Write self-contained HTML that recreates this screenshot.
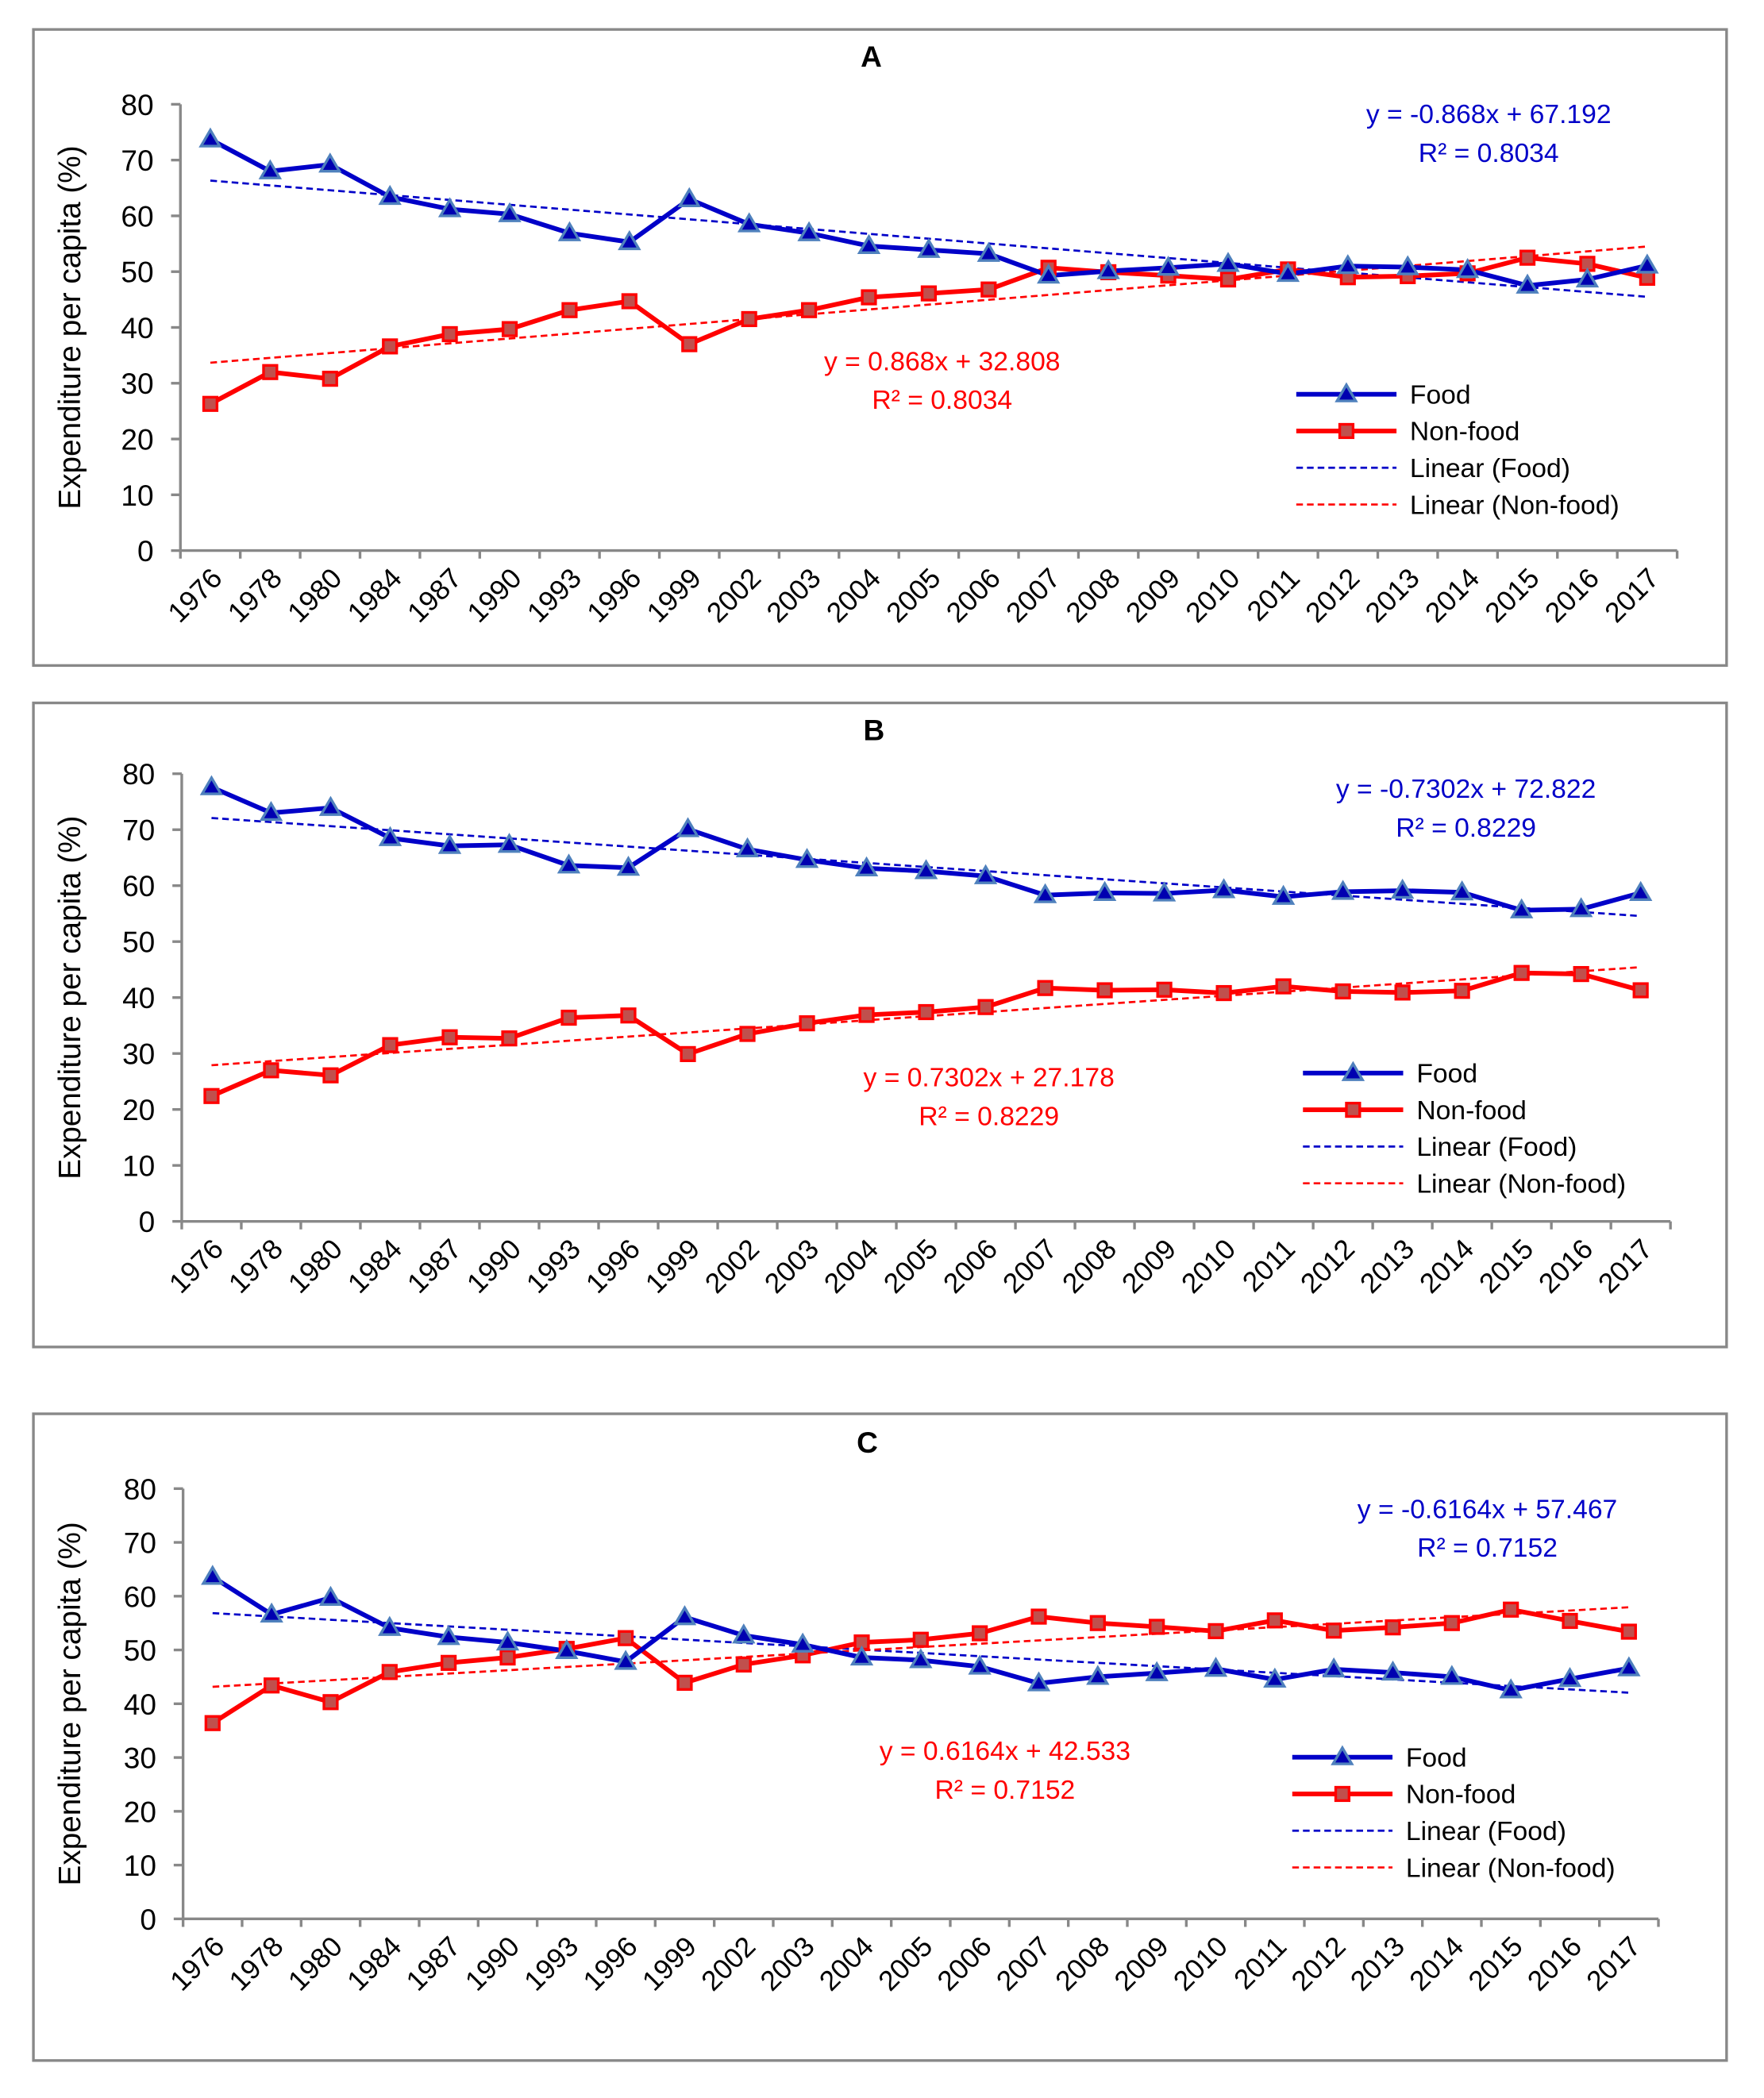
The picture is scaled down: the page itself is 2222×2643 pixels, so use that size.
<!DOCTYPE html>
<html><head><meta charset="utf-8">
<style>
html,body{margin:0;padding:0;background:#fff;}
svg{display:block;}
text{font-family:"Liberation Sans",sans-serif;}
</style></head>
<body>
<svg id="s" xmlns="http://www.w3.org/2000/svg" width="2222" height="2643" viewBox="0 0 1320 1570"></svg>
<script>
const NS="http://www.w3.org/2000/svg";
const svg=document.getElementById('s');
function el(t,a,txt){const e=document.createElementNS(NS,t);for(const k in a)e.setAttribute(k,a[k]);if(txt!==undefined)e.textContent=txt;svg.appendChild(e);return e;}
const years=[1976,1978,1980,1984,1987,1990,1993,1996,1999,2002,2003,2004,2005,2006,2007,2008,2009,2010,2011,2012,2013,2014,2015,2016,2017];
const panels=[
 {title:"A",box:[25,22,1292,498],ax0:135,ax1:1255,y0:412,y80:78,tx:652,ty:50,
  food:[73.7,68,69.2,63.4,61.2,60.3,56.9,55.3,63,58.5,56.9,54.6,53.9,53.2,49.3,50.1,50.7,51.4,49.6,51,50.8,50.3,47.5,48.6,51.1],
  fa:-0.868,fb:67.192,na:0.868,nb:32.808,
  eqB:[1114,92,"y = -0.868x + 67.192","R² = 0.8034"],eqR:[705,277,"y = 0.868x + 32.808","R² = 0.8034"],
  leg:[970,1045,1055,295]},
 {title:"B",box:[25,526,1292,1008],ax0:136,ax1:1250,y0:914,y80:579,tx:654,ty:554,
  food:[77.6,73,73.9,68.5,67.1,67.3,63.6,63.2,70.1,66.5,64.6,63.1,62.6,61.7,58.3,58.7,58.6,59.2,58,58.9,59.1,58.8,55.6,55.8,58.7],
  fa:-0.7302,fb:72.822,na:0.7302,nb:27.178,
  eqB:[1097,597,"y = -0.7302x + 72.822","R² = 0.8229"],eqR:[740,813,"y = 0.7302x + 27.178","R² = 0.8229"],
  leg:[975,1050,1060,803]},
 {title:"C",box:[25,1058,1292,1542],ax0:137,ax1:1241,y0:1436,y80:1114,tx:649,ty:1087,
  food:[63.6,56.6,59.7,54.1,52.4,51.4,49.8,47.8,56.1,52.7,51,48.6,48.1,46.9,43.8,45,45.7,46.5,44.5,46.4,45.8,45,42.5,44.6,46.6],
  fa:-0.6164,fb:57.467,na:0.6164,nb:42.533,
  eqB:[1113,1136,"y = -0.6164x + 57.467","R² = 0.7152"],eqR:[752,1317,"y = 0.6164x + 42.533","R² = 0.7152"],
  leg:[967,1042,1052,1315]}
];
const BLUE="#0000c8",RED="#ff0000";
function tri(x,y){el('polygon',{points:`${x},${y-7} ${x-7},${y+5} ${x+7},${y+5}`,fill:"#0000b0",stroke:"#4f81bd","stroke-width":2});}
function sq(x,y){el('rect',{x:x-5,y:y-5,width:10,height:10,fill:"#c0504d",stroke:"#ff0000","stroke-width":2});}
panels.forEach(p=>{
 const [bx0,by0,bx1,by1]=p.box;
 el('rect',{x:bx0,y:by0,width:bx1-bx0,height:by1-by0,fill:"none",stroke:"#888","stroke-width":2});
 el('text',{x:p.tx,y:p.ty,"text-anchor":"middle","font-size":22,"font-weight":"bold"},p.title);
 const sy=v=>p.y0+(p.y80-p.y0)*v/80;
 const step=(p.ax1-p.ax0)/25;
 const sx=i=>p.ax0+step*(i+0.5);
 el('line',{x1:p.ax0,y1:p.y80,x2:p.ax0,y2:p.y0,stroke:"#888","stroke-width":2});
 el('line',{x1:p.ax0,y1:p.y0,x2:p.ax1,y2:p.y0,stroke:"#888","stroke-width":2});
 for(let v=0;v<=80;v+=10){
  el('line',{x1:p.ax0-7,y1:sy(v),x2:p.ax0,y2:sy(v),stroke:"#888","stroke-width":2});
  el('text',{x:p.ax0-20,y:sy(v)+8,"text-anchor":"end","font-size":22},v);
 }
 for(let i=0;i<=25;i++){const x=p.ax0+step*i;el('line',{x1:x,y1:p.y0,x2:x,y2:p.y0+6,stroke:"#888","stroke-width":2});}
 years.forEach((y,i)=>{const x=sx(i)+10,yy=p.y0+22;
  el('text',{x:x,y:yy,"text-anchor":"end","font-size":21,transform:`rotate(-45 ${x} ${yy})`},y);});
 const ym=(p.y0+p.y80)/2;
 el('text',{x:60,y:ym,"text-anchor":"middle","font-size":23,transform:`rotate(-90 60 ${ym})`},"Expenditure per capita (%)");
 el('line',{x1:sx(0),y1:sy(p.fa*1+p.fb),x2:sx(24),y2:sy(p.fa*25+p.fb),stroke:BLUE,"stroke-width":1.6,"stroke-dasharray":"5,3"});
 el('line',{x1:sx(0),y1:sy(p.na*1+p.nb),x2:sx(24),y2:sy(p.na*25+p.nb),stroke:RED,"stroke-width":1.6,"stroke-dasharray":"5,3"});
 const nf=p.food.map(v=>100-v);
 el('polyline',{points:nf.map((v,i)=>sx(i)+","+sy(v)).join(" "),fill:"none",stroke:RED,"stroke-width":3.5,"stroke-linejoin":"round"});
 el('polyline',{points:p.food.map((v,i)=>sx(i)+","+sy(v)).join(" "),fill:"none",stroke:BLUE,"stroke-width":3.5,"stroke-linejoin":"round"});
 nf.forEach((v,i)=>sq(sx(i),sy(v)));
 p.food.forEach((v,i)=>tri(sx(i),sy(v)));
 el('text',{x:p.eqB[0],y:p.eqB[1],"text-anchor":"middle","font-size":20,fill:BLUE},p.eqB[2]);
 el('text',{x:p.eqB[0],y:p.eqB[1]+29,"text-anchor":"middle","font-size":20,fill:BLUE},p.eqB[3]);
 el('text',{x:p.eqR[0],y:p.eqR[1],"text-anchor":"middle","font-size":20,fill:RED},p.eqR[2]);
 el('text',{x:p.eqR[0],y:p.eqR[1]+29,"text-anchor":"middle","font-size":20,fill:RED},p.eqR[3]);
 const [l0,l1,lt,ly]=p.leg; const mid=(l0+l1)/2;
 const labs=["Food","Non-food","Linear (Food)","Linear (Non-food)"];
 labs.forEach((t,k)=>{const y=ly+k*27.5;
  if(k==0){el('line',{x1:l0,y1:y,x2:l1,y2:y,stroke:BLUE,"stroke-width":3.5});tri(mid,y);}
  else if(k==1){el('line',{x1:l0,y1:y,x2:l1,y2:y,stroke:RED,"stroke-width":3.5});sq(mid,y);}
  else el('line',{x1:l0,y1:y,x2:l1,y2:y,stroke:k==2?BLUE:RED,"stroke-width":1.6,"stroke-dasharray":"5,3"});
  el('text',{x:lt,y:y+7,"font-size":20},t);
 });
});
</script>
</body></html>
